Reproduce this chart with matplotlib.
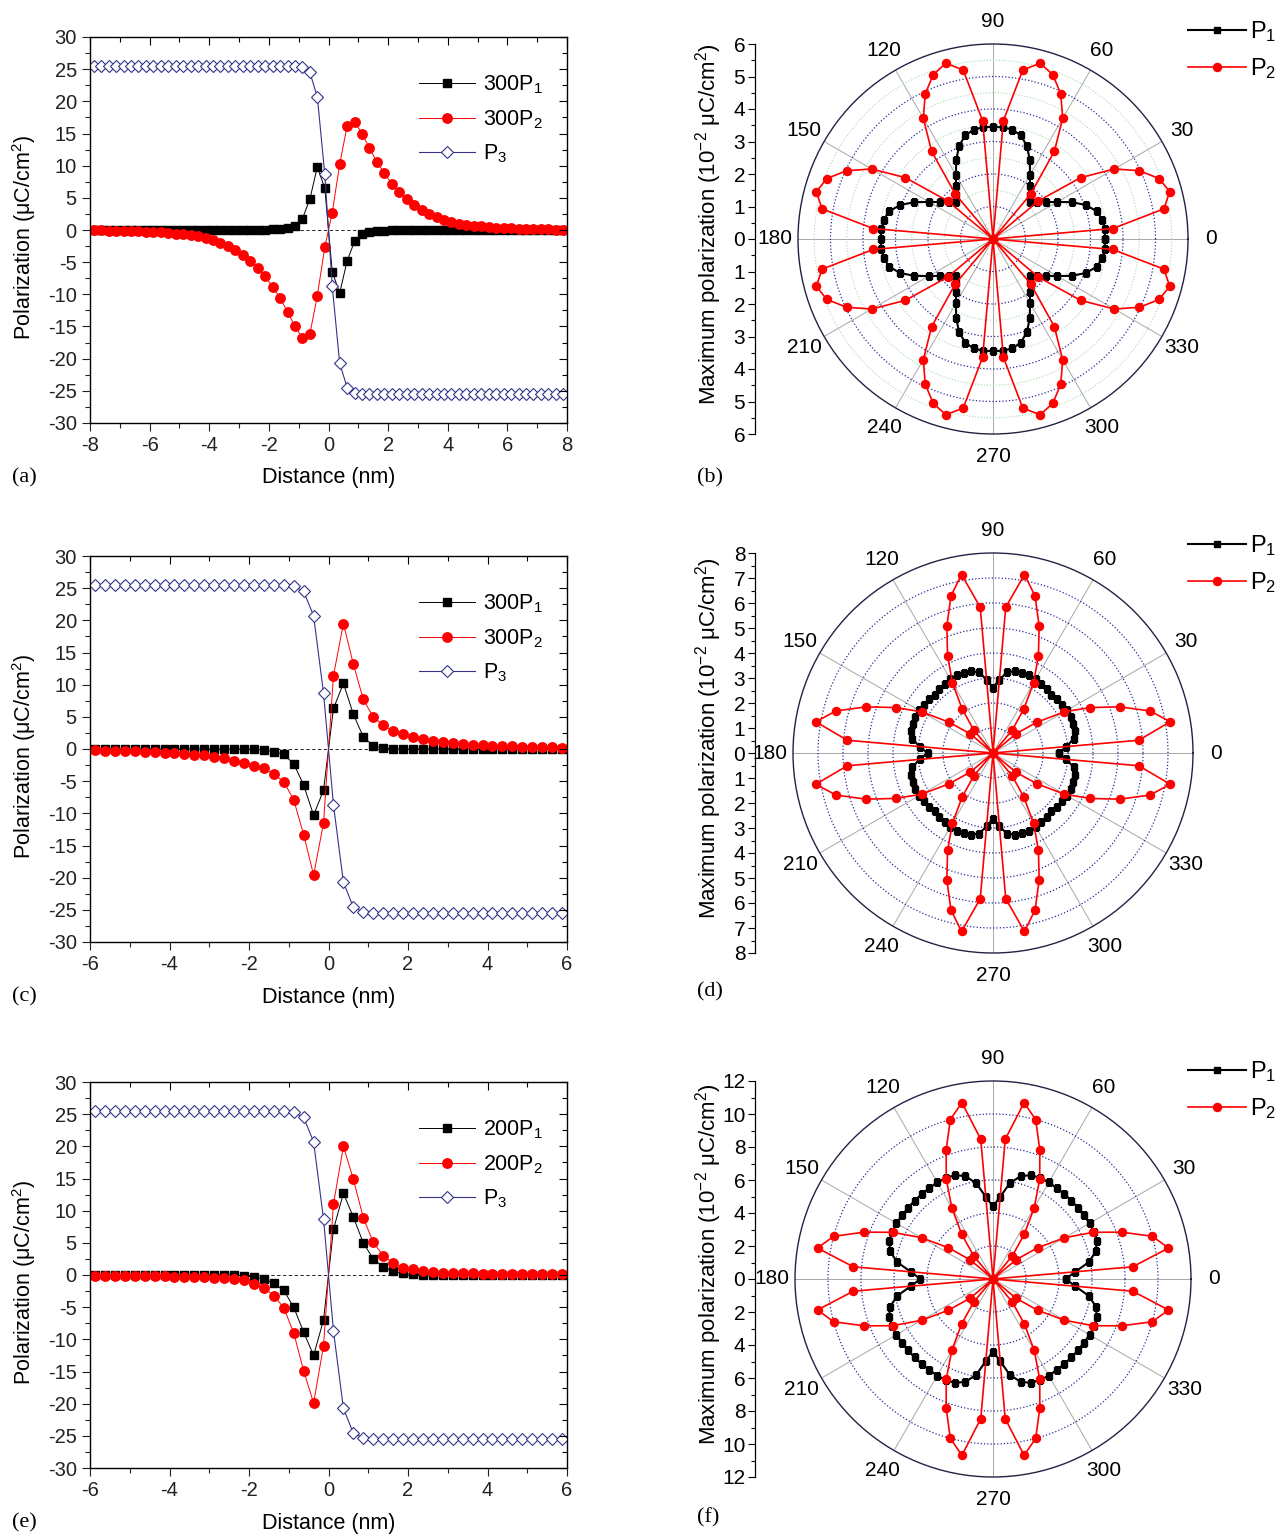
import numpy as np
import matplotlib.pyplot as plt
from matplotlib.ticker import MultipleLocator, FuncFormatter

plt.rcParams['font.family'] = ['Liberation Sans', 'DejaVu Sans']
plt.rcParams['mathtext.fontset'] = 'custom'
plt.rcParams['mathtext.rm'] = 'Liberation Sans'
plt.rcParams['mathtext.default'] = 'rm'
plt.rcParams['axes.unicode_minus'] = False

# ---------------- data: line profiles ----------------
# sample positions (nm), 0.25 nm spacing
x_a = np.linspace(-7.875, 7.875, 64)
x_ce = np.linspace(-5.875, 5.875, 48)

p1_a = [0, 0, 0, 0, 0, 0, 0, 0, 0, 0, 0, 0, 0, 0, 0, 0, 0, 0, 0, 0,
        0.01, 0.02, 0.03, 0.05, 0.08, 0.15, 0.3, 0.6, 1.75, 4.8, 9.8, 6.5,
        -6.5, -9.8, -4.8, -1.75, -0.6, -0.3, -0.15, -0.08, -0.05, -0.03, -0.02, -0.01,
        0, 0, 0, 0, 0, 0, 0, 0, 0, 0, 0, 0, 0, 0, 0, 0, 0, 0, 0, 0]
p2_a = [-0.05, -0.06, -0.08, -0.1, -0.13, -0.16, -0.2, -0.25, -0.3, -0.37, -0.45, -0.55,
        -0.65, -0.8, -1.0, -1.25, -1.6, -2.0, -2.5, -3.1, -3.9, -4.8, -5.9, -7.2,
        -8.8, -10.6, -12.7, -15.0, -16.8, -16.2, -10.2, -2.7,
        2.7, 10.2, 16.2, 16.8, 15.0, 12.7, 10.6, 8.8, 7.2, 5.9, 4.8, 3.9,
        3.1, 2.5, 2.0, 1.6, 1.25, 1.0, 0.8, 0.65, 0.55, 0.45, 0.37, 0.3,
        0.25, 0.2, 0.16, 0.13, 0.1, 0.08, 0.06, 0.05]
p3_a = [25.5, 25.5, 25.5, 25.5, 25.5, 25.5, 25.5, 25.5, 25.5, 25.5, 25.5, 25.5, 25.5, 25.5,
        25.5, 25.5, 25.5, 25.5, 25.5, 25.5, 25.5, 25.5, 25.5, 25.5, 25.5, 25.5, 25.5, 25.5,
        25.4, 24.5, 20.7, 8.7, -8.7, -20.7, -24.5, -25.3,
        -25.5, -25.5, -25.5, -25.5, -25.5, -25.5, -25.5, -25.5, -25.5, -25.5, -25.5, -25.5, -25.5, -25.5,
        -25.5, -25.5, -25.5, -25.5, -25.5, -25.5, -25.5, -25.5, -25.5, -25.5, -25.5, -25.5, -25.5, -25.5]

p1_c = [0, 0, 0, 0, 0, 0, 0, 0, 0, 0, 0, 0, 0, 0, 0, 0,
        -0.05, -0.15, -0.4, -0.85, -2.3, -5.6, -10.3, -6.4,
        6.3, 10.2, 5.4, 1.9, 0.5, 0.12, 0.04,
        0, 0, 0, 0, 0, 0, 0, 0, 0, 0, 0, 0, 0, 0, 0, 0, 0]
p2_c = [-0.23, -0.26, -0.29, -0.33, -0.38, -0.43, -0.49, -0.56, -0.64, -0.74, -0.86, -1.0,
        -1.2, -1.45, -1.86, -2.2, -2.6, -3.0, -3.9, -5.1, -7.9, -13.3, -19.6, -11.5,
        11.4, 19.5, 13.2, 7.7, 5.0, 3.7, 2.8, 2.3, 1.8, 1.5, 1.25, 1.05,
        0.9, 0.78, 0.68, 0.6, 0.52, 0.46, 0.4, 0.35, 0.31, 0.27, 0.24, 0.21]
p3_c = [25.5, 25.5, 25.5, 25.5, 25.5, 25.5, 25.5, 25.5, 25.5, 25.5,
        25.5, 25.5, 25.5, 25.5, 25.5, 25.5, 25.5, 25.5, 25.5, 25.5,
        25.3, 24.5, 20.7, 8.7, -8.7, -20.7, -24.6, -25.3,
        -25.5, -25.5, -25.5, -25.5, -25.5, -25.5, -25.5, -25.5, -25.5, -25.5,
        -25.5, -25.5, -25.5, -25.5, -25.5, -25.5, -25.5, -25.5, -25.5, -25.5]

p1_e = [0, 0, 0, 0, 0, 0, 0, 0, 0, 0, 0, 0, 0,
        0, -0.02, -0.1, -0.3, -0.6, -1.3, -2.4, -5.0, -8.9, -12.5, -7.0,
        7.1, 12.7, 9.0, 5.0, 2.5, 1.25, 0.6, 0.25, 0.1, 0.05, 0.02,
        0, 0, 0, 0, 0, 0, 0, 0, 0, 0, 0, 0, 0]
p2_e = [-0.15, -0.16, -0.17, -0.18, -0.19, -0.2, -0.21, -0.22, -0.24, -0.27, -0.3, -0.34,
        -0.4, -0.5, -0.6, -0.85, -1.35, -2.0, -3.2, -5.1, -9.0, -14.9, -19.9, -11.0,
        11.0, 20.0, 14.9, 8.9, 5.1, 3.0, 1.9, 1.1, 0.9, 0.6, 0.45, 0.38,
        0.32, 0.28, 0.25, 0.22, 0.2, 0.19, 0.18, 0.17, 0.16, 0.15, 0.15, 0.14]
p3_e = [25.5, 25.5, 25.5, 25.5, 25.5, 25.5, 25.5, 25.5, 25.5, 25.5,
        25.5, 25.5, 25.5, 25.5, 25.5, 25.5, 25.5, 25.5, 25.5, 25.5,
        25.3, 24.5, 20.7, 8.7, -8.7, -20.7, -24.6, -25.3,
        -25.5, -25.5, -25.5, -25.5, -25.5, -25.5, -25.5, -25.5, -25.5, -25.5,
        -25.5, -25.5, -25.5, -25.5, -25.5, -25.5, -25.5, -25.5, -25.5, -25.5]

# ---------------- data: polar (angle in degrees, 5 deg steps) ----------------
ang = np.arange(0, 360, 5)

p1_b = [3.45, 3.45, 3.42, 3.30, 3.05, 2.68, 2.28, 1.98, 1.76, 1.62, 1.76, 1.98, 2.28, 2.68, 3.05, 3.30, 3.42, 3.45,
        3.45, 3.45, 3.42, 3.30, 3.05, 2.68, 2.28, 1.98, 1.76, 1.62, 1.76, 1.98, 2.28, 2.68, 3.05, 3.30, 3.42, 3.45,
        3.45, 3.45, 3.42, 3.30, 3.05, 2.68, 2.28, 1.98, 1.76, 1.62, 1.76, 1.98, 2.28, 2.68, 3.05, 3.30, 3.42, 3.45,
        3.45, 3.45, 3.42, 3.30, 3.05, 2.68, 2.28, 1.98, 1.76, 1.62, 1.76, 1.98, 2.28, 2.68, 3.05, 3.30, 3.42, 3.45]
p2_b = [0, 3.70, 5.34, 5.63, 5.44, 4.97, 4.31, 3.29, 1.82, 0, 1.80, 3.29, 4.29, 4.93, 5.38, 5.60, 5.28, 3.65,
        0, 3.65, 5.28, 5.60, 5.38, 4.93, 4.29, 3.29, 1.80, 0, 1.82, 3.29, 4.31, 4.97, 5.44, 5.63, 5.34, 3.70,
        0, 3.70, 5.34, 5.63, 5.44, 4.97, 4.31, 3.29, 1.82, 0, 1.80, 3.29, 4.29, 4.93, 5.38, 5.60, 5.28, 3.65,
        0, 3.65, 5.28, 5.60, 5.38, 4.93, 4.29, 3.29, 1.80, 0, 1.82, 3.29, 4.31, 4.97, 5.44, 5.63, 5.34, 3.70]

p1_d = [2.62, 2.95, 3.28, 3.38, 3.42, 3.43, 3.41, 3.37, 3.33, 3.30, 3.33, 3.37, 3.41, 3.43, 3.42, 3.38, 3.28, 2.95,
        2.62, 2.95, 3.28, 3.38, 3.42, 3.43, 3.41, 3.37, 3.33, 3.30, 3.33, 3.37, 3.41, 3.43, 3.42, 3.38, 3.28, 2.95,
        2.62, 2.95, 3.28, 3.38, 3.42, 3.43, 3.41, 3.37, 3.33, 3.30, 3.33, 3.37, 3.41, 3.43, 3.42, 3.38, 3.28, 2.95,
        2.62, 2.95, 3.28, 3.38, 3.42, 3.43, 3.41, 3.37, 3.33, 3.30, 3.33, 3.37, 3.41, 3.43, 3.42, 3.38, 3.28, 2.95]
p2_d = [0, 5.85, 7.20, 6.50, 5.40, 4.30, 3.30, 2.15, 1.20, 0, 1.20, 2.15, 3.25, 4.30, 5.40, 6.50, 7.25, 5.85,
        0, 5.85, 7.25, 6.50, 5.40, 4.30, 3.25, 2.15, 1.20, 0, 1.20, 2.15, 3.30, 4.30, 5.40, 6.50, 7.20, 5.85,
        0, 5.85, 7.20, 6.50, 5.40, 4.30, 3.30, 2.15, 1.20, 0, 1.20, 2.15, 3.25, 4.30, 5.40, 6.50, 7.25, 5.85,
        0, 5.85, 7.25, 6.50, 5.40, 4.30, 3.25, 2.15, 1.20, 0, 1.20, 2.15, 3.30, 4.30, 5.40, 6.50, 7.20, 5.85]

p1_f = [4.40, 5.00, 5.90, 6.45, 6.70, 6.76, 6.76, 6.73, 6.72, 6.72, 6.72, 6.73, 6.76, 6.76, 6.70, 6.45, 5.90, 5.00,
        4.40, 5.00, 5.90, 6.45, 6.70, 6.76, 6.76, 6.73, 6.72, 6.72, 6.72, 6.73, 6.76, 6.76, 6.70, 6.45, 5.90, 5.00,
        4.40, 5.00, 5.90, 6.45, 6.70, 6.76, 6.76, 6.73, 6.72, 6.72, 6.72, 6.73, 6.76, 6.76, 6.70, 6.45, 5.90, 5.00,
        4.40, 5.00, 5.90, 6.45, 6.70, 6.76, 6.76, 6.73, 6.72, 6.72, 6.72, 6.73, 6.76, 6.76, 6.70, 6.45, 5.90, 5.00]
p2_f = [0, 8.50, 10.80, 10.00, 8.30, 6.70, 5.00, 3.30, 1.80, 0, 1.80, 3.30, 5.00, 6.70, 8.30, 10.00, 10.85, 8.50,
        0, 8.50, 10.85, 10.00, 8.30, 6.70, 5.00, 3.30, 1.80, 0, 1.80, 3.30, 5.00, 6.70, 8.30, 10.00, 10.80, 8.50,
        0, 8.50, 10.80, 10.00, 8.30, 6.70, 5.00, 3.30, 1.80, 0, 1.80, 3.30, 5.00, 6.70, 8.30, 10.00, 10.85, 8.50,
        0, 8.50, 10.85, 10.00, 8.30, 6.70, 5.00, 3.30, 1.80, 0, 1.80, 3.30, 5.00, 6.70, 8.30, 10.00, 10.80, 8.50]

W, H = 1286, 1537
fig = plt.figure(figsize=(W / 100, H / 100), dpi=100)

RED = '#ff0000'
NAVY = '#34348a'


def px_rect(l, t, r, b):
    return [l / W, 1 - b / H, (r - l) / W, (b - t) / H]


def line_panel(box, x, p1, p2, p3, names, xlim, tag):
    ax = fig.add_axes(px_rect(*box))
    ax.axhline(0, color='k', lw=0.6, ls=(0, (4, 3)), zorder=1)
    ax.plot(x, p1, '-s', color='k', lw=0.7, ms=5.8, label=names[0], zorder=2)
    ax.plot(x, p2, '-o', color=RED, lw=0.7, ms=6.8, label=names[1], zorder=3)
    ax.plot(x, p3, '-D', color=NAVY, lw=0.8, ms=6, mfc='white', mew=0.8, label=names[2], zorder=4)
    ax.set_xlim(*xlim)
    ax.set_ylim(-30, 30)
    ax.xaxis.set_major_locator(MultipleLocator(2))
    ax.xaxis.set_minor_locator(MultipleLocator(1))
    ax.yaxis.set_major_locator(MultipleLocator(5))
    ax.yaxis.set_minor_locator(MultipleLocator(2.5))
    ax.tick_params(which='both', direction='out', labelsize=14.5, width=0.8, colors='#222222')
    ax.tick_params(which='major', length=6)
    ax.tick_params(which='minor', length=3.5)
    for s in ax.spines.values():
        s.set_linewidth(0.9)
        s.set_color('#333333')

    # mirrored ticks on top and right, pointing in
    ty = ax.twinx()
    ty.set_ylim(-30, 30)
    ty.yaxis.set_major_locator(MultipleLocator(5))
    ty.yaxis.set_minor_locator(MultipleLocator(2.5))
    ty.tick_params(which='both', direction='in', labelright=False, width=0.8)
    ty.tick_params(which='major', length=6)
    ty.tick_params(which='minor', length=3.5)
    tx = ax.twiny()
    tx.set_xlim(*xlim)
    tx.xaxis.set_major_locator(MultipleLocator(2))
    tx.xaxis.set_minor_locator(MultipleLocator(1))
    tx.tick_params(which='both', direction='in', labeltop=False, width=0.8)
    tx.tick_params(which='major', length=6)
    tx.tick_params(which='minor', length=3.5)

    ax.legend(loc='upper right', bbox_to_anchor=(0.99, 0.955), frameon=False, fontsize=15.5,
              handlelength=2.6, labelspacing=0.55, handletextpad=0.35)

    l, t, r, b = box
    fig.text(24 / W, 1 - ((t + b) / 2 + 8) / H, 'Polarization (μC/cm$^2$)', rotation=90,
             ha='center', va='center', fontsize=15.5)
    fig.text((l + r) / 2 / W, 1 - (b + 55) / H, 'Distance (nm)', ha='center', va='center', fontsize=15.5)
    fig.text(12 / W, 1 - (b + 55) / H, tag, ha='left', va='center', fontsize=16,
             family='Liberation Serif')
    return ax


def polar_panel(cx, cy, R, rmax, rstep, p1, p2, tag, green=False):
    ax = fig.add_axes(px_rect(cx - R, cy - R, cx + R, cy + R), projection='polar')
    th = np.deg2rad(np.append(ang, ang[0]))
    ax.plot(th, np.append(p1, p1[0]), '-s', color='k', lw=1.5, ms=4.3, label='P$_1$', zorder=3)
    ax.plot(th, np.append(p2, p2[0]), '-o', color=RED, lw=1.2, ms=5.8, label='P$_2$', zorder=4)
    ax.set_ylim(0, rmax)
    ax.set_yticks(np.arange(rstep, rmax, rstep))
    ax.set_yticklabels([])
    if green:
        ax.set_yticks(np.arange(rstep / 2, rmax, rstep), minor=True)
        ax.yaxis.grid(True, which='minor', color='#a8dca8', lw=0.8, ls=':')
    ax.set_thetagrids(range(0, 360, 30), labels=[str(a) for a in range(0, 360, 30)], fontsize=15)
    ax.tick_params(axis='x', pad=6)
    ax.xaxis.grid(True, color='#a8a8a8', lw=0.7, ls='-')
    ax.yaxis.grid(True, which='major', color='#2b2b9a', lw=0.9, ls=':')
    ax.set_axisbelow(True)
    ax.spines['polar'].set_linewidth(1.0)
    ax.spines['polar'].set_color('#222244')

    # radial scale drawn as a separate vertical axis on the left
    yax = fig.add_axes(px_rect(755, cy - R, 756, cy + R))
    yax.set_ylim(-rmax, rmax)
    yax.patch.set_visible(False)
    for s in ['top', 'right', 'bottom']:
        yax.spines[s].set_visible(False)
    yax.spines['left'].set_linewidth(0.9)
    yax.set_xticks([])
    step = rstep if rmax < 10 else 2
    yax.yaxis.set_major_locator(MultipleLocator(step))
    yax.yaxis.set_minor_locator(MultipleLocator(step / 2))
    yax.yaxis.set_major_formatter(FuncFormatter(lambda v, p: '%g' % abs(v)))
    yax.tick_params(which='both', direction='out', labelsize=15, width=0.8, pad=2)
    yax.tick_params(which='major', length=5)
    yax.tick_params(which='minor', length=3)

    fig.text(709 / W, 1 - (cy - 15) / H, 'Maximum polarization (10$^{-2}$ μC/cm$^2$)', rotation=90,
             ha='center', va='center', fontsize=16)
    fig.text(697 / W, 1 - (cy + 239) / H, tag, ha='left', va='center', fontsize=16,
             family='Liberation Serif')
    ax.legend(loc='upper left', bbox_to_anchor=(1179 / W, 1 - (cy - 229) / H),
              bbox_transform=fig.transFigure, frameon=False, fontsize=17,
              handlelength=2.45, labelspacing=0.5, handletextpad=0.15, borderaxespad=0)
    return ax


line_panel((90, 37, 567, 423), x_a, p1_a, p2_a, p3_a,
           ['300P$_1$', '300P$_2$', 'P$_3$'], (-8, 8), '(a)')
line_panel((90, 556, 567, 942), x_ce, p1_c, p2_c, p3_c,
           ['300P$_1$', '300P$_2$', 'P$_3$'], (-6, 6), '(c)')
line_panel((90, 1082, 567, 1468), x_ce, p1_e, p2_e, p3_e,
           ['200P$_1$', '200P$_2$', 'P$_3$'], (-6, 6), '(e)')

polar_panel(993, 239, 195, 6, 1, p1_b, p2_b, '(b)', green=True)
polar_panel(993, 753, 200, 8, 1, p1_d, p2_d, '(d)')
polar_panel(993, 1279, 198, 12, 2, p1_f, p2_f, '(f)')

fig.savefig('out.png', dpi=100)
